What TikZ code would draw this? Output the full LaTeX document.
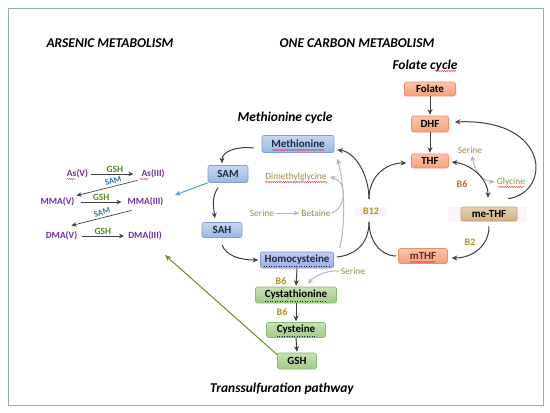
\documentclass[tikz,border=0pt]{standalone}
\usepackage{fontspec}
\setmainfont{Carlito}
\usetikzlibrary{arrows.meta,calc,decorations.pathmorphing}
\definecolor{frame}{HTML}{8FA9D4}
\definecolor{arsp}{HTML}{7030A0}
\definecolor{gshc}{HTML}{4F8A2A}
\definecolor{samc}{HTML}{2E75B6}
\definecolor{dgray}{HTML}{3F3F3F}
\definecolor{lgray}{HTML}{B8B8B8}
\definecolor{olivet}{HTML}{9C8C48}
\definecolor{vitc}{HTML}{B8901C}
\definecolor{vitr}{HTML}{D9622B}
\definecolor{bluearr}{HTML}{4A9FD8}
\definecolor{greenarr}{HTML}{6B8E23}
\definecolor{navy}{HTML}{1F2A44}
\definecolor{mtop}{HTML}{C5D7F2}\definecolor{mbot}{HTML}{98B6E4}\definecolor{mdr}{HTML}{7F9FD6}
\definecolor{htop}{HTML}{C3CBF2}\definecolor{hbot}{HTML}{9EAEE6}\definecolor{hdr}{HTML}{8494D6}
\definecolor{ftop}{HTML}{FBC4AA}\definecolor{fbot}{HTML}{F4A07E}\definecolor{fdr}{HTML}{E8906A}
\definecolor{ttop}{HTML}{E6D0B0}\definecolor{tbot}{HTML}{CFB088}\definecolor{tdr}{HTML}{C0A070}
\definecolor{gtop}{HTML}{C6E0B4}\definecolor{gbot}{HTML}{A3CA88}\definecolor{gdr}{HTML}{8DB872}
\definecolor{pinkbg}{HTML}{FEF3F6}
\definecolor{mthfc}{HTML}{7B1F1F}
\definecolor{spellc}{HTML}{E03040}
\tikzset{
  box/.style={draw, rounded corners=2bp, inner sep=0pt, line width=0.6bp,
    font=\bfseries\fontsize{11}{13}\selectfont},
  mbox/.style={box, top color=mtop, bottom color=mbot, draw=mdr, text=navy},
  hbox/.style={box, top color=htop, bottom color=hbot, draw=hdr, text=navy},
  fbox/.style={box, top color=ftop, bottom color=fbot, draw=fdr, text=black},
  tbox/.style={box, top color=ttop, bottom color=tbot, draw=tdr, text=black},
  gbox/.style={box, top color=gtop, bottom color=gbot, draw=gdr, text=black},
  ttl/.style={font=\bfseries\itshape\fontsize{13.5}{15}\selectfont, inner sep=0pt},
  asp/.style={font=\bfseries\fontsize{9.5}{11}\selectfont, text=arsp, inner sep=1bp},
  gshl/.style={font=\bfseries\fontsize{9.5}{11}\selectfont, text=gshc, inner sep=0.5bp},
  saml/.style={font=\bfseries\fontsize{8.5}{10}\selectfont, text=samc, inner sep=0pt},
  sml/.style={font=\fontsize{9.5}{11}\selectfont, text=olivet, inner sep=1bp},
  vit/.style={font=\bfseries\fontsize{10}{12}\selectfont, text=vitc, inner sep=1bp},
  arr/.style={-{Stealth[length=5.5bp,width=5bp]}, draw=dgray, line width=1bp},
  sarr/.style={-{Stealth[length=5bp,width=4.5bp]}, draw=dgray, line width=0.7bp},
  garr/.style={-{Stealth[length=5.5bp,width=5bp]}, draw=lgray, line width=1bp},
  spell/.style={draw=spellc, line width=0.45bp, decorate,
    decoration={snake, amplitude=0.55bp, segment length=2.2bp}},
  gram/.style={draw=navy, line width=0.5bp, dotted},
}
\begin{document}
\begin{tikzpicture}[x=1bp,y=-1bp]
\useasboundingbox (0,0) rectangle (550,412);
\fill[white] (0,0) rectangle (550,412);
\draw[draw=frame, line width=1bp] (8,8) rectangle (543,405);

% titles
\node[ttl] (t1) at (110,43) {ARSENIC METABOLISM};
\node[ttl] (t2) at (357,43) {ONE CARBON METABOLISM};
\node[ttl] (t3) at (425,66) {Folate cycle};
\node[ttl] (t4) at (285,118) {Methionine cycle};
\node[ttl] (t5) at (282,389) {Transsulfuration pathway};

% faint highlight band behind me-THF
\fill[pinkbg] (448,207) rectangle (527,222);

% methionine cycle
\node[mbox, minimum width=72bp, minimum height=17bp] (met) at (298,144) {Methionine};
\node[mbox, minimum width=40bp, minimum height=17bp] (sam) at (228,174) {SAM};
\node[mbox, minimum width=40bp, minimum height=15bp] (sah) at (222,230) {SAH};
\node[hbox, minimum width=73bp, minimum height=16bp] (hcy) at (297,260) {Homocysteine};
% transsulfuration
\node[gbox, minimum width=81bp, minimum height=16bp] (cys) at (296,295) {Cystathionine};
\node[gbox, minimum width=59bp, minimum height=15bp] (cyst) at (296,330) {Cysteine};
\node[gbox, minimum width=39bp, minimum height=16bp] (gsh) at (297,361) {GSH};
% folate cycle
\node[fbox, minimum width=51bp, minimum height=14bp] (fol) at (430,89) {Folate};
\node[fbox, minimum width=37bp, minimum height=16bp] (dhf) at (430,124) {DHF};
\node[fbox, minimum width=37bp, minimum height=14bp] (thf) at (430,161) {THF};
\node[tbox, minimum width=56bp, minimum height=14bp] (methf) at (489,214) {me-THF};
\node[fbox, minimum width=49bp, minimum height=15bp, text=mthfc] (mthf) at (423,256) {mTHF};

% small labels
\node[sml] (ser1) at (262,213) {Serine};
\node[sml] (bet) at (316,213) {Betaine};
\node[sml] (dmg) at (296,177) {Dimethylglycine};
\node[sml] (ser2) at (353,271) {Serine};
\node[sml] (ser3) at (470,150) {Serine};
\node[sml] (gly) at (511,182) {Glycine};

% arsenic
\node[asp] (asv) at (77.5,174) {As(V)};
\node[asp] (asiii) at (153,174) {As(III)};
\node[asp] (mmav) at (57.5,202) {MMA(V)};
\node[asp] (mmaiii) at (145.5,202) {MMA(III)};
\node[asp] (dmav) at (61.5,236) {DMA(V)};
\node[asp] (dmaiii) at (145,236) {DMA(III)};

\draw[sarr, shorten <=1.5bp, shorten >=7bp] (asv) -- (asiii) node[midway, above=1bp, gshl] (g1) {GSH};
\draw[sarr, shorten <=5bp, shorten >=5bp] (mmav) -- (mmaiii) node[midway, above=1bp, gshl] (g2) {GSH};
\draw[sarr, shorten <=3.5bp, shorten >=3bp] (dmav) -- (dmaiii) node[midway, above=1bp, gshl] (g3) {GSH};
\draw[sarr] ($(asiii.south west)+(-3,1)$) -- ($(mmav.north east)+(1,-1)$);
\draw[sarr] ($(mmaiii.south west)+(5,3)$) -- ($(dmav.north east)+(-7,-5)$);
\node[saml, rotate=15] (s1) at (113,181) {SAM};
\node[saml, rotate=16] (s2) at (102,212.5) {SAM};

% spell-check marks as printed
\draw[spell] ($(asv.center)+(-11,5)$) -- ($(asv.center)+(-2,5)$);
\draw[spell] ($(asiii.center)+(-13,5)$) -- ($(asiii.center)+(-4,5)$);
\draw[spell] ($(met.center)+(-26,6)$) -- ($(met.center)+(26,6)$);
\draw[spell] ($(dmg.center)+(-31,5)$) -- ($(dmg.center)+(31,5)$);
\draw[spell] ($(gly.center)+(-13,5)$) -- ($(gly.center)+(13,5)$);
\draw[spell] ($(mthf.center)+(-13,6)$) -- ($(mthf.center)+(13,6)$);
\draw[spell] ($(t3.center)+(10,5)$) -- ($(t3.center)+(32,5)$);
\draw[gram] ($(hcy.center)+(-33,6.5)$) -- ($(hcy.center)+(33,6.5)$);
\draw[gram] ($(cys.center)+(-31,6.5)$) -- ($(cys.center)+(31,6.5)$);
\draw[gram] ($(cyst.center)+(-19,6.5)$) -- ($(cyst.center)+(19,6.5)$);

% methionine cycle arrows
\draw[arr] ($(met.west)+(-8,4)$) .. controls ($(met.west)+(-25,2)$) and ($(sam.north)+(-6,-14)$) .. ($(sam.north)+(-6,-2)$);
\draw[arr] ($(sam.south)+(-10,5)$) .. controls ($(sam.south)+(-16,14)$) and ($(sah.north)+(-9,-18)$) .. ($(sah.north)+(-7,-4)$);
\draw[arr] ($(sah.south)+(0,7)$) .. controls ($(sah.south)+(4,18)$) and ($(hcy.west)+(-20,0)$) .. ($(hcy.west)+(-2,0)$);

% B12 curves
\node[vit, fill=pinkbg, minimum width=32bp, minimum height=9bp] (b12) at (371,211) {B12};
\coordinate (b12lo) at (369,222);
\coordinate (b12hi) at (369,199);
\draw[dgray, line width=1bp] ($(hcy.east)+(3,-3)$) .. controls (357,255) and (369,242) .. (b12lo);
\draw[arr] (b12hi) .. controls (369,176) and (356,152) .. ($(met.east)+(3,6)$);
\draw[dgray, line width=1bp] ($(mthf.west)+(-2,0)$) .. controls (380,256) and (369,240) .. (b12lo);
\draw[arr] (b12hi) .. controls (369,176) and (386,163) .. ($(thf.west)+(-5,2)$);

% vitamins
\node[vit] (b6a) at (281,281) {B6};
\node[vit] (b6b) at (282,312) {B6};
\node[vit, text=vitr] (b6c) at (462,184) {B6};
\node[vit] (b2) at (470,242) {B2};

% grey arrows
\draw[garr, shorten <=1bp, shorten >=1bp] (ser1) -- (bet);
\draw[garr] (bet.east) .. controls (347,207) and (347,181) .. ($(dmg.east)+(2,0)$);
\draw[garr] ($(hcy.north east)+(6,-4)$) .. controls (347,215) and (343,180) .. ($(met.south east)+(3,6)$);
\draw[garr] ($(ser2.west)+(-1,0)$) .. controls (326,270) and (313,277) .. ($(cys.north)+(12,-3)$);
\draw[garr, {Stealth[length=5.5bp,width=5bp]}-{Stealth[length=5.5bp,width=5bp]}] ($(ser3.south)+(2,1)$) .. controls ($(ser3.south)+(5,18)$) and (483,181) .. ($(gly.west)+(-1,0)$);

% transsulfuration arrows
\draw[arr, shorten >=1bp] (hcy.south) -- (cys.north);
\draw[arr, shorten >=1bp] (cys.south) -- (cyst.north);
\draw[arr, shorten >=1bp] (cyst.south) -- (gsh.north);

% folate arrows
\draw[arr, shorten >=1bp] (fol.south) -- (dhf.north);
\draw[arr, shorten >=1bp] (dhf.south) -- (thf.north);
\draw[arr] ($(methf.north east)+(-9,-8)$) .. controls (552,192) and (550,118) .. ($(dhf.east)+(6,-2)$);
\draw[arr, {Stealth[length=5.5bp,width=5bp]}-{Stealth[length=5.5bp,width=5bp]}] ($(thf.east)+(3,1)$) .. controls (470,164) and (488,178) .. ($(methf.north)+(-1,-9)$);
\draw[arr] ($(methf.south)+(0,5)$) .. controls (489,246) and (472,258) .. ($(mthf.east)+(4,2)$);

% links to arsenic
\coordinate (asT) at (175,195);
\coordinate (gshT) at (165,255);
\draw[-{Stealth[length=5.5bp,width=5bp]}, draw=bluearr, line width=1bp] ($(sam.south west)+(0,0)$) -- (asT);
\draw[-{Stealth[length=6.5bp,width=5.5bp]}, draw=greenarr, line width=1bp] ($(gsh.north west)+(0,2)$) -- (gshT);
\end{tikzpicture}
\end{document}
